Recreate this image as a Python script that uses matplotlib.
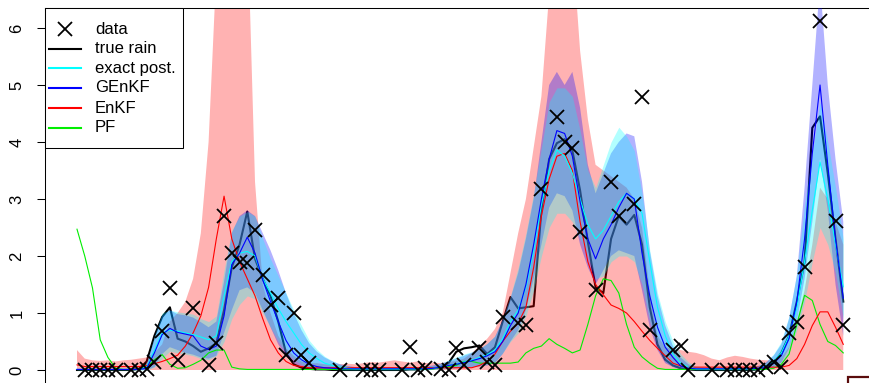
import matplotlib
matplotlib.use("Agg")
import matplotlib.pyplot as plt
from matplotlib.patches import Rectangle
from matplotlib.lines import Line2D
import numpy as np

plt.rcParams['font.family'] = ['Liberation Sans', 'DejaVu Sans']

# ---------------- data ----------------
time = list(range(1, 101))

true_rain = [0, 0, 0, 0, 0, 0, 0, 0, 0.02, 0.15,
             0.6, 0.93, 1.1, 0.55, 0.5, 0.42, 0.32, 0.38, 0.47, 1.05,
             1.8, 2.2, 2.78, 1.95, 1.6, 1.3, 0.85, 0.3, 0.1, 0.04,
             0.02, 0.01, 0.01, 0, 0, 0, 0, 0, 0, 0,
             0, 0, 0, 0.01, 0.01, 0.02, 0.03, 0.05, 0.12, 0.32,
             0.38, 0.4, 0.43, 0.28, 0.4, 0.85, 1.28, 1.08, 1.1, 1.12,
             2.8, 3.7, 3.98, 4.05, 3.85, 3.15, 2.25, 1.45, 1.35, 2.3,
             2.7, 2.55, 2.72, 2.2, 1.1, 0.45, 0.18, 0.08, 0.03, 0.01,
             0, 0, 0, 0, 0, 0, 0, 0, 0.01, 0.05,
             0.12, 0.3, 0.6, 1.2, 1.9, 4.25, 4.45, 3.45, 2.3, 1.2]

exact_mean = [0.01, 0.01, 0.01, 0.01, 0.01, 0.01, 0.01, 0.01, 0.01, 0.05,
              0.35, 0.65, 0.7, 0.68, 0.65, 0.62, 0.58, 0.53, 0.6, 1.3,
              1.9, 2.05, 2.08, 2.0, 1.6, 1.35, 1.08, 0.85, 0.65, 0.45,
              0.3, 0.2, 0.12, 0.08, 0.05, 0.03, 0.02, 0.02, 0.02, 0.02,
              0.02, 0.02, 0.02, 0.02, 0.02, 0.02, 0.03, 0.05, 0.08, 0.11,
              0.14, 0.17, 0.22, 0.27, 0.35, 0.55, 0.85, 1.05, 1.45, 2.1,
              2.9, 3.5, 3.86, 3.75, 3.45, 3.0, 2.55, 2.3, 2.45, 2.7,
              2.95, 3.1, 3.0, 2.75, 1.9, 1.1, 0.6, 0.28, 0.12, 0.05,
              0.02, 0.02, 0.02, 0.02, 0.02, 0.02, 0.02, 0.02, 0.03, 0.07,
              0.15, 0.3, 0.6, 1.1, 1.9, 2.8, 3.65, 3.0, 2.2, 1.46]
exact_lo = [0, 0, 0, 0, 0, 0, 0, 0, 0, 0,
            0.05, 0.2, 0.33, 0.3, 0.28, 0.25, 0.2, 0.18, 0.25, 0.5,
            0.9, 1.15, 1.3, 1.25, 1.0, 0.75, 0.5, 0.3, 0.18, 0.1,
            0.05, 0.03, 0.02, 0.01, 0, 0, 0, 0, 0, 0,
            0, 0, 0, 0, 0, 0, 0.01, 0.02, 0.03, 0.04,
            0.05, 0.06, 0.08, 0.1, 0.14, 0.3, 0.5, 0.65, 0.95, 1.4,
            2.0, 2.5, 2.75, 2.75, 2.6, 2.3, 2.0, 1.6, 1.65, 1.9,
            2.0, 2.0, 1.9, 1.5, 0.85, 0.4, 0.15, 0.06, 0.02, 0.01,
            0, 0, 0, 0, 0, 0, 0, 0, 0, 0.02,
            0.05, 0.12, 0.32, 0.7, 1.2, 1.9, 2.5, 2.2, 1.7, 0.9]
exact_hi = [0.02, 0.02, 0.02, 0.02, 0.02, 0.02, 0.02, 0.02, 0.03, 0.12,
            0.6, 1.0, 1.05, 1.02, 1.0, 0.98, 0.9, 0.85, 0.95, 1.75,
            2.45, 2.7, 2.78, 2.7, 2.3, 1.95, 1.65, 1.35, 1.05, 0.78,
            0.52, 0.36, 0.24, 0.16, 0.1, 0.07, 0.05, 0.05, 0.05, 0.05,
            0.05, 0.05, 0.05, 0.05, 0.05, 0.06, 0.08, 0.12, 0.17, 0.23,
            0.28, 0.32, 0.38, 0.47, 0.6, 0.9, 1.3, 1.8, 2.4, 3.1,
            3.9, 4.7, 4.95, 4.95, 4.8, 4.2, 3.5, 3.2, 3.6, 4.0,
            4.26, 4.1, 3.85, 3.1, 2.1, 1.35, 0.85, 0.5, 0.28, 0.14,
            0.07, 0.05, 0.05, 0.05, 0.05, 0.05, 0.05, 0.05, 0.08, 0.14,
            0.28, 0.5, 0.95, 1.7, 2.9, 3.8, 4.7, 4.0, 3.2, 2.3]

genkf_mean = [0.01, 0.01, 0.01, 0.01, 0.01, 0.01, 0.01, 0.01, 0.01, 0.03,
              0.3, 0.62, 0.73, 0.66, 0.63, 0.6, 0.42, 0.36, 0.42, 0.95,
              1.85, 2.05, 2.33, 2.05, 1.58, 1.2, 0.85, 0.52, 0.3, 0.18,
              0.1, 0.06, 0.04, 0.03, 0.02, 0.02, 0.02, 0.02, 0.02, 0.02,
              0.02, 0.02, 0.02, 0.02, 0.02, 0.02, 0.03, 0.05, 0.08, 0.1,
              0.13, 0.16, 0.2, 0.25, 0.32, 0.5, 0.78, 1.0, 1.5, 2.2,
              3.0, 3.7, 4.2, 4.15, 3.75, 2.95, 2.3, 1.95, 2.3, 2.55,
              2.85, 3.1, 3.0, 2.05, 1.3, 0.75, 0.4, 0.22, 0.07, 0.03,
              0.02, 0.02, 0.02, 0.02, 0.02, 0.02, 0.02, 0.02, 0.03, 0.06,
              0.12, 0.25, 0.55, 1.2, 2.3, 3.8, 5.0, 3.6, 2.3, 1.26]
genkf_lo = [0, 0, 0, 0, 0, 0, 0, 0, 0, 0,
            0.05, 0.28, 0.4, 0.35, 0.3, 0.27, 0.22, 0.2, 0.25, 0.65,
            1.05, 1.4, 1.45, 1.35, 1.05, 0.75, 0.45, 0.25, 0.12, 0.06,
            0.03, 0.02, 0.01, 0, 0, 0, 0, 0, 0, 0,
            0, 0, 0, 0, 0, 0, 0.01, 0.01, 0.02, 0.03,
            0.04, 0.05, 0.06, 0.08, 0.12, 0.28, 0.5, 0.7, 1.05, 1.6,
            2.2, 2.85, 3.1, 3.05, 2.8, 2.2, 1.8, 1.5, 1.75, 2.0,
            2.1, 2.05, 2.0, 1.4, 0.75, 0.35, 0.12, 0.05, 0.02, 0.01,
            0, 0, 0, 0, 0, 0, 0, 0, 0, 0.02,
            0.05, 0.13, 0.38, 0.85, 1.6, 2.6, 3.7, 2.8, 1.5, 0.6]
genkf_hi = [0.02, 0.02, 0.02, 0.02, 0.02, 0.02, 0.02, 0.02, 0.03, 0.1,
            0.55, 0.95, 1.05, 0.98, 0.96, 0.92, 0.84, 0.75, 0.85, 1.55,
            2.4, 2.7, 2.8, 2.7, 2.4, 2.1, 1.75, 1.35, 1.0, 0.7,
            0.47, 0.32, 0.22, 0.15, 0.1, 0.07, 0.05, 0.05, 0.05, 0.05,
            0.05, 0.05, 0.05, 0.05, 0.05, 0.06, 0.08, 0.11, 0.15, 0.2,
            0.25, 0.3, 0.36, 0.45, 0.58, 0.88, 1.25, 1.7, 2.3, 3.0,
            4.0, 5.0, 5.23, 5.0, 5.23, 4.6, 3.6, 3.1, 3.45, 3.8,
            4.0, 4.15, 4.1, 3.3, 2.1, 1.3, 0.78, 0.42, 0.22, 0.1,
            0.05, 0.04, 0.04, 0.04, 0.04, 0.04, 0.04, 0.04, 0.07, 0.13,
            0.25, 0.45, 0.9, 1.65, 3.2, 5.0, 6.8, 5.0, 3.7, 2.6]

enkf_mean = [0.09, 0.06, 0.06, 0.06, 0.06, 0.06, 0.06, 0.06, 0.06, 0.08,
             0.11, 0.15, 0.2, 0.26, 0.42, 0.65, 0.95, 1.45, 2.3, 3.05,
             2.3, 1.9, 1.6, 1.3, 0.9, 0.53, 0.3, 0.15, 0.08, 0.06,
             0.04, 0.04, 0.04, 0.04, 0.04, 0.04, 0.04, 0.04, 0.04, 0.04,
             0.04, 0.04, 0.04, 0.04, 0.04, 0.04, 0.04, 0.04, 0.04, 0.04,
             0.04, 0.04, 0.08, 0.15, 0.28, 0.5, 0.68, 0.82, 1.1, 1.8,
             2.7, 3.35, 3.75, 3.8, 3.5, 2.6, 1.9, 1.5, 1.32, 1.14,
             1.08, 1.0, 0.85, 0.68, 0.52, 0.38, 0.25, 0.12, 0.07, 0.05,
             0.05, 0.05, 0.05, 0.05, 0.05, 0.05, 0.05, 0.05, 0.05, 0.05,
             0.05, 0.05, 0.08, 0.2, 0.45, 0.78, 1.02, 1.02, 0.75, 0.45]
enkf_lo = [0.0] * 100
enkf_hi = [0.35, 0.2, 0.17, 0.16, 0.17, 0.15, 0.17, 0.18, 0.2, 0.22,
           0.3, 0.45, 0.85, 1.0, 1.2, 1.6, 2.4, 4.0, 7.0, 9.0,
           9.0, 9.0, 8.0, 3.3, 1.5, 1.0, 0.6, 0.38, 0.25, 0.15,
           0.12, 0.12, 0.1, 0.1, 0.1, 0.11, 0.1, 0.12, 0.14, 0.13,
           0.15, 0.17, 0.15, 0.13, 0.15, 0.12, 0.13, 0.12, 0.14, 0.16,
           0.2, 0.3, 0.42, 0.55, 0.72, 1.0, 1.7, 2.4, 3.0, 3.9,
           4.8, 6.6, 9.0, 9.0, 7.5, 5.6, 4.4, 3.6, 3.5, 3.4,
           3.3, 3.2, 3.0, 2.5, 1.4, 0.6, 0.4, 0.37, 0.35, 0.32,
           0.3, 0.26, 0.2, 0.17, 0.22, 0.25, 0.23, 0.2, 0.18, 0.17,
           0.17, 0.22, 0.4, 0.85, 1.4, 2.2, 3.2, 3.0, 2.6, 2.2]

pf_mean = [2.47, 2.0, 1.44, 0.53, 0.22, 0.03, 0.01, 0.01, 0.01, 0.05,
           0.18, 0.27, 0.1, 0.03, 0.04, 0.1, 0.17, 0.3, 0.35, 0.35,
           0.05, 0.02, 0.01, 0.01, 0.01, 0.01, 0.01, 0.01, 0.01, 0.01,
           0.01, 0.01, 0.01, 0.01, 0.01, 0.01, 0.01, 0.01, 0.01, 0.01,
           0.01, 0.01, 0.01, 0.01, 0.01, 0.01, 0.02, 0.04, 0.06, 0.08,
           0.15, 0.15, 0.12, 0.12, 0.12, 0.12, 0.12, 0.14, 0.3, 0.38,
           0.42, 0.55, 0.45, 0.38, 0.3, 0.35, 0.8, 1.3, 1.6, 1.57,
           1.35, 0.8, 0.4, 0.23, 0.12, 0.03, 0.01, 0.01, 0.01, 0.01,
           0.01, 0.01, 0.01, 0.01, 0.01, 0.01, 0.01, 0.01, 0.01, 0.01,
           0.03, 0.1, 0.28, 0.8, 1.31, 1.22, 0.8, 0.5, 0.43, 0.3]

obs_t = [2, 3, 4, 5, 6, 8, 9, 10, 11, 12, 13, 14, 16, 18, 19, 20, 21, 22, 23, 24,
         25, 26, 27, 28, 29, 30, 31, 35, 38, 39, 40, 43, 44, 45, 46, 48, 49, 50, 51, 53,
         54, 55, 56, 58, 59, 61, 63, 64, 65, 66, 68, 70, 71, 73, 74, 75, 78, 79, 80, 83,
         85, 86, 87, 88, 89, 90, 91, 92, 93, 94, 95, 97, 99, 100]
obs_y = [0, 0, 0, 0, 0, 0, 0, 0.02, 0.14, 0.68, 1.44, 0.18, 1.09, 0.09, 0.47, 2.70, 2.05, 1.90, 1.87, 2.46,
         1.67, 1.14, 1.26, 0.26, 1.0, 0.26, 0.13, 0.0, 0, 0, 0, 0, 0.40, 0, 0.03, 0.02, 0, 0.38, 0.08, 0.38,
         0.14, 0.08, 0.93, 0.82, 0.79, 3.17, 4.44, 4.0, 3.9, 2.42, 1.40, 3.30, 2.70, 2.91, 4.79, 0.70, 0.35, 0.42, 0, 0,
         0, 0, 0, 0, 0, 0.05, 0.14, 0.05, 0.65, 0.84, 1.81, 6.12, 2.61, 0.79]

legend_labels = ["data", "true rain", "exact post.", "GEnKF", "EnKF", "PF"]
yticks = [0, 1, 2, 3, 4, 5, 6]

# ---------------- figure ----------------
W, H = 869, 383
fig = plt.figure(figsize=(W / 100, H / 100), dpi=100)
ax = fig.add_axes([45 / W, (H - 384) / H, (874 - 45) / W, (384 - 8) / H])
ax.set_xlim(1 + (45 - 77) / 7.74, 1 + (874 - 77) / 7.74)
ax.set_ylim((370 - 384) / 57, (370 - 8) / 57)

t = np.array(time)
ax.plot(t, true_rain, color='black', lw=1.5, zorder=1)
ax.fill_between(t, enkf_lo, enkf_hi, color=(1, 0, 0, 0.3), lw=0, zorder=2)
ax.fill_between(t, genkf_lo, genkf_hi, color=(0, 0, 1, 0.3), lw=0, zorder=3)
ax.fill_between(t, exact_lo, exact_hi, color=(0, 1, 1, 0.3), lw=0, zorder=4)
ax.plot(t, pf_mean, color='#00ee00', lw=0.8, zorder=5)
ax.plot(t, enkf_mean, color='red', lw=0.8, zorder=5)
ax.plot(t, exact_mean, color='cyan', lw=0.8, zorder=5)
ax.plot(t, genkf_mean, color='blue', lw=0.8, zorder=5)
ax.plot(obs_t, obs_y, ls='none', marker='x', ms=9.5, mew=1.3, color='black', zorder=6)

ax.set_xticks([])
ax.set_yticks(yticks)
ax.set_yticklabels([str(v) for v in yticks])
ax.tick_params(axis='y', length=5.8, width=0.75, pad=9, labelsize=12,
               labelrotation=90)
for lab in ax.get_yticklabels():
    lab.set_va('center')
for s in ax.spines.values():
    s.set_linewidth(0.75)
    s.set_color('black')

# ---------------- legend (R style, top-left box) ----------------
def fx(x):
    return x / W

def fy(y):
    return 1 - y / H

fig.add_artist(Rectangle((fx(45), fy(148)), fx(183) - fx(45), fy(8) - fy(148),
                         transform=fig.transFigure, facecolor='white',
                         edgecolor='black', lw=0.75, zorder=10))
rows = [29, 48.5, 68, 88, 108, 128]
styles = [dict(ls='none', marker='x', ms=9.5, mew=1.3, color='black'),
          dict(color='black', lw=1.5),
          dict(color='cyan', lw=1.5),
          dict(color='blue', lw=1.5),
          dict(color='red', lw=1.5),
          dict(color='#00ee00', lw=1.5)]
for lab, y, st in zip(legend_labels, rows, styles):
    if st.get('marker'):
        fig.add_artist(Line2D([fx(65)], [fy(y)], transform=fig.transFigure, zorder=11, **st))
    else:
        fig.add_artist(Line2D([fx(49), fx(81)], [fy(y), fy(y)], transform=fig.transFigure,
                              zorder=11, **st))
    fig.text(fx(95), fy(y), lab, fontsize=12, va='center', ha='left', zorder=12)

# small dark-red frame cut off at the bottom-right corner
fig.add_artist(Rectangle((fx(848), fy(395)), fx(30), fy(377) - fy(395),
                         transform=fig.transFigure, facecolor='white',
                         edgecolor='#5a0c0c', lw=1.6, zorder=10))

fig.savefig('out.png', dpi=100)
